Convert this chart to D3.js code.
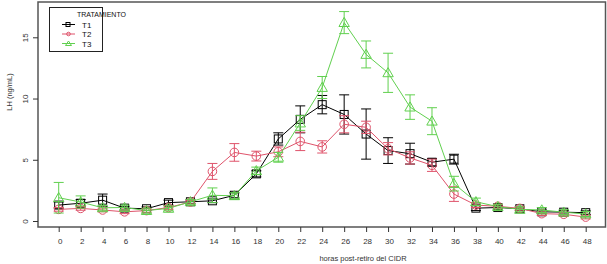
<!DOCTYPE html>
<html><head><meta charset="utf-8">
<script src="https://cdn.jsdelivr.net/npm/d3@7"></script>
<style>body{margin:0;background:#fff}svg{display:block}text{font-family:"Liberation Sans",Arial,sans-serif}</style>
</head><body><svg id="c" width="607" height="264"></svg>
<script>
const hours = [0,2,4,6,8,10,12,14,16,18,20,22,24,26,28,30,32,34,36,38,40,42,44,46,48];
const seriesNames = ["T1","T2","T3"];
const t1Mean = [1.3,1.45,1.7,1.05,1.0,1.5,1.57,1.65,2.1,3.85,6.7,8.3,9.5,8.7,7.1,5.75,5.5,4.8,5.05,1.05,1.1,1.0,0.75,0.72,0.68];
const t1Err  = [0.25,0.3,0.5,0.15,0.15,0.2,0.15,0.15,0.2,0.25,0.5,1.1,0.75,1.6,2.05,1.05,0.85,0.3,0.4,0.2,0.15,0.15,0.15,0.15,0.15];
const t2Mean = [0.95,1.03,0.9,0.75,0.85,1.1,1.55,4.05,5.6,5.3,5.65,6.5,6.05,7.9,7.65,5.9,5.15,4.55,2.2,1.3,1.2,1.03,0.6,0.55,0.32];
const t2Err  = [0.15,0.15,0.15,0.15,0.15,0.15,0.15,0.65,0.72,0.4,0.4,0.75,0.5,0.7,0.5,0.5,0.5,0.5,0.6,0.2,0.15,0.15,0.15,0.15,0.15];
const t3Mean = [1.9,1.55,1.08,1.1,0.85,1.03,1.57,2.1,2.06,4.1,5.2,8.0,10.9,16.2,13.6,12.1,9.3,8.15,3.05,1.57,1.17,0.95,0.9,0.72,0.57];
const t3Err  = [1.25,0.5,0.2,0.2,0.2,0.2,0.2,0.6,0.25,0.3,0.4,0.6,0.9,0.9,1.1,1.6,1.0,1.1,0.6,0.3,0.2,0.2,0.2,0.2,0.2];
const xTicks = hours;
const yTicks = [0,5,10,15];
const xTitle = "horas post-retiro del CIDR";
const yTitle = "LH (ng/mL)";
const legendTitle = "TRATAMIENTO";

const colors = ["#000000","#DF536B","#61D04F"];
const shapes = ["square","circle","triangle"];
const series = [
  {name:seriesNames[0], mean:t1Mean, err:t1Err},
  {name:seriesNames[1], mean:t2Mean, err:t2Err},
  {name:seriesNames[2], mean:t3Mean, err:t3Err}
];

const svg = d3.select("#c");
const x = d3.scaleLinear().domain([0,48]).range([58.7,585.7]);
const y = d3.scaleLinear().domain([0,15]).range([221,37.3]);

// box
svg.append("rect").attr("x",38).attr("y",2).attr("width",567.5).attr("height",225)
  .attr("fill","none").attr("stroke","#555").attr("stroke-width",1.5);

// x axis
const xa = svg.append("g").attr("transform","translate(0,227)")
  .call(d3.axisBottom(x).tickValues(xTicks).tickSize(5).tickFormat(d3.format("d")));
xa.select(".domain").remove();
xa.selectAll(".tick line").attr("stroke","#333");
xa.selectAll(".tick text").attr("y",11).attr("dy","0.71em").attr("dx",1).attr("font-size",8).attr("fill","#333")
  .attr("font-family","Liberation Sans, Arial, sans-serif");

// y axis
const ya = svg.append("g").attr("transform","translate(38,0)")
  .call(d3.axisLeft(y).tickValues(yTicks).tickSize(5).tickFormat(d3.format("d")));
ya.select(".domain").remove();
ya.selectAll(".tick line").attr("stroke","#333");
ya.selectAll(".tick text").attr("x",null).attr("dy",null)
  .attr("transform","translate(-10,0) rotate(-90)").attr("text-anchor","middle")
  .attr("font-size",8).attr("fill","#333").attr("font-family","Liberation Sans, Arial, sans-serif");

// titles
svg.append("text").attr("x",363).attr("y",261).attr("text-anchor","middle")
  .attr("font-size",7.5).attr("fill","#333").text(xTitle);
svg.append("text").attr("transform","translate(12,92) rotate(-90)").attr("text-anchor","middle")
  .attr("font-size",7.5).attr("fill","#333").text(yTitle);

function marker(g, shape, cx, cy, color){
  if(shape==="square"){
    g.append("rect").attr("x",cx-4).attr("y",cy-4).attr("width",8).attr("height",8)
      .attr("fill","none").attr("stroke",color).attr("stroke-width",1);
  } else if(shape==="circle"){
    g.append("circle").attr("cx",cx).attr("cy",cy).attr("r",4.3)
      .attr("fill","none").attr("stroke",color).attr("stroke-width",1);
  } else {
    const s=5.2;
    g.append("path").attr("d",`M${cx},${cy-s}L${cx+s},${cy+s*0.75}L${cx-s},${cy+s*0.75}Z`)
      .attr("fill","none").attr("stroke",color).attr("stroke-width",1);
  }
}

const line = d3.line().x(d=>x(d.h)).y(d=>y(d.v));
series.forEach((s,i)=>{
  const g = svg.append("g");
  const pts = hours.map((h,j)=>({h, v:s.mean[j], e:s.err[j]}));
  g.append("path").attr("d",line(pts)).attr("fill","none").attr("stroke",colors[i]).attr("stroke-width",1);
  pts.forEach(p=>{
    const px=x(p.h), top=y(p.v+p.e), bot=y(p.v-p.e);
    g.append("line").attr("x1",px).attr("x2",px).attr("y1",top).attr("y2",bot).attr("stroke",colors[i]).attr("stroke-width",1);
    g.append("line").attr("x1",px-5).attr("x2",px+5).attr("y1",top).attr("y2",top).attr("stroke",colors[i]).attr("stroke-width",1);
    g.append("line").attr("x1",px-5).attr("x2",px+5).attr("y1",bot).attr("y2",bot).attr("stroke",colors[i]).attr("stroke-width",1);
    marker(g, shapes[i], px, y(p.v), colors[i]);
  });
});

// legend
const lg = svg.append("g");
lg.append("rect").attr("x",49.5).attr("y",7.5).attr("width",53).attr("height",44)
  .attr("fill","#fff").attr("stroke","#222").attr("stroke-width",1);
lg.append("text").attr("x",77).attr("y",17).attr("font-size",7).attr("fill","#111").text(legendTitle);
series.forEach((s,i)=>{
  const cy = 24.5 + i*9.5;
  lg.append("line").attr("x1",62).attr("x2",75).attr("y1",cy).attr("y2",cy).attr("stroke",colors[i]).attr("stroke-width",1);
  if(i===0){
    lg.append("rect").attr("x",66).attr("y",cy-2).attr("width",4).attr("height",4).attr("fill","none").attr("stroke",colors[i]);
  } else if(i===1){
    lg.append("circle").attr("cx",68.5).attr("cy",cy).attr("r",1.8).attr("fill","none").attr("stroke",colors[i]);
  } else {
    lg.append("path").attr("d",`M68.5,${cy-2.5}L71.5,${cy+2}L65.5,${cy+2}Z`).attr("fill","none").attr("stroke",colors[i]);
  }
  lg.append("text").attr("x",82).attr("y",cy+3).attr("font-size",8).attr("fill","#111").text(s.name);
});
</script></body></html>
